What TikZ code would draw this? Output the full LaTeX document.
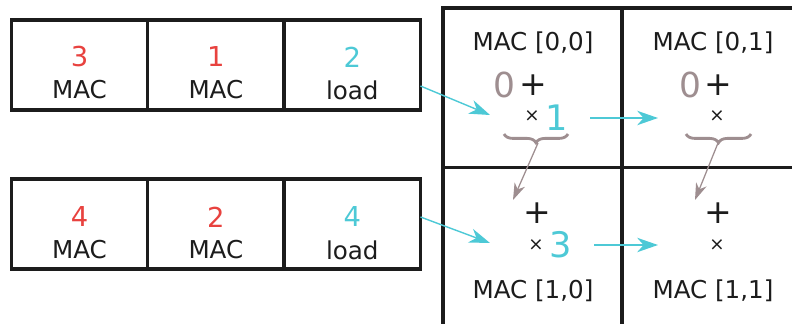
\documentclass[tikz,border=0pt]{standalone}
\usepackage{fontspec}
\setmainfont{DejaVu Sans}
\usetikzlibrary{arrows.meta,positioning,decorations.pathreplacing}
\definecolor{opred}{HTML}{E8423F}
\definecolor{ldcyan}{HTML}{4DC9D6}
\definecolor{accgray}{HTML}{9E8E90}
\definecolor{ink}{HTML}{1C1C1C}

\begin{document}
\begin{tikzpicture}[
  font=\fontsize{17.5}{20}\selectfont,
  text=ink,
  instr/.style={draw=ink,line width=2.4pt,outer sep=0pt,inner sep=0pt,
                minimum width=3.41cm,minimum height=2.25cm},
  cell/.style={draw=ink,line width=2.4pt,outer sep=0pt,inner sep=0pt,
               minimum width=4.475cm,minimum height=3.98cm},
  num/.style={font=\fontsize{19.5}{22}\selectfont,inner sep=0pt},
  lbl/.style={inner sep=0pt},
  acc/.style={font=\fontsize{24.5}{27}\selectfont,text=accgray,inner sep=0pt},
  sym/.style={font=\fontsize{23.5}{26}\selectfont,inner sep=0pt},
  mul/.style={font=\fontsize{13}{15}\selectfont,inner sep=0pt},
  val/.style={font=\fontsize{25}{27}\selectfont,text=ldcyan,inner sep=0pt},
  flow/.style={-{Stealth[length=5.2mm,width=3.6mm,inset=1.6mm]},draw=ldcyan,line width=1pt},
  sum/.style={-{Stealth[length=4.2mm,width=2.8mm,inset=1.3mm]},draw=accgray,line width=0.9pt},
  brc/.style={draw=accgray,line width=2pt,decorate,decoration={brace,mirror,amplitude=2.2mm}}
]
\useasboundingbox (0,0) rectangle (19.8,8.075);
% ---------- instruction queues ----------
\node[instr] (qa1) at (1.9875,6.45) {};
\node[instr,right=0pt of qa1] (qa2) {};
\node[instr,right=0pt of qa2] (qa3) {};
\node[num,text=opred]  at ([yshift=2mm]qa1.center) {3};
\node[lbl]             at ([yshift=-6.25mm]qa1.center) {MAC};
\node[num,text=opred]  at ([yshift=2mm]qa2.center) {1};
\node[lbl]             at ([yshift=-6.25mm]qa2.center) {MAC};
\node[num,text=ldcyan] at ([yshift=2mm]qa3.center) {2};
\node[lbl]             at ([yshift=-6.25mm]qa3.center) {load};

\node[instr] (qb1) at (1.9875,2.475) {};
\node[instr,right=0pt of qb1] (qb2) {};
\node[instr,right=0pt of qb2] (qb3) {};
\node[num,text=opred]  at ([yshift=1.75mm]qb1.center) {4};
\node[lbl]             at ([yshift=-6.5mm]qb1.center) {MAC};
\node[num,text=opred]  at ([yshift=1.75mm]qb2.center) {2};
\node[lbl]             at ([yshift=-6.5mm]qb2.center) {MAC};
\node[num,text=ldcyan] at ([yshift=1.75mm]qb3.center) {4};
\node[lbl]             at ([yshift=-6.5mm]qb3.center) {load};

% ---------- MAC grid ----------
\node[cell] (c00) at (13.3125,5.885) {};
\node[cell,right=0pt of c00] (c01) {};
\node[cell,below=0pt of c00] (c10) {};
\node[cell,right=0pt of c10] (c11) {};

% cell [0,0]
\node[lbl] (t00)   at (13.325,7.0)   {MAC [0,0]};
\node[acc] (acc00) at (12.62,5.95)   {0};
\node[sym] (add00) at (13.34,5.95)   {+};
\node[mul] (mul00) at (13.3,5.175)   {×};
\node[val] (v00)   at (13.925,5.125) {1};
\draw[brc] (12.6,4.725) -- (14.2,4.725);
\coordinate (s00) at (13.45,4.5);
% cell [0,1]
\node[lbl] (t01)   at (17.825,7.0)   {MAC [0,1]};
\node[acc] (acc01) at (17.26,5.95)   {0};
\node[sym] (add01) at (17.96,5.95)   {+};
\node[mul] (mul01) at (17.925,5.175) {×};
\draw[brc] (17.15,4.725) -- (18.775,4.725);
\coordinate (s01) at (17.95,4.5);
% cell [1,0]
\node[sym] (add10) at (13.425,2.75)  {+};
\node[mul] (mul10) at (13.4,1.95)    {×};
\node[val] (v10)   at (14.025,1.95)  {3};
\node[lbl] (t10)   at (13.325,0.8)   {MAC [1,0]};
% cell [1,1]
\node[sym] (add11) at (17.95,2.75)   {+};
\node[mul] (mul11) at (17.925,1.95)  {×};
\node[lbl] (t11)   at (17.825,0.8)   {MAC [1,1]};

% ---------- data movement ----------
\coordinate (in00) at (12.25,5.2);
\coordinate (in10) at (12.25,2.0);
\coordinate (in01) at (16.45,5.125);
\coordinate (in11) at (16.45,1.95);
\coordinate (ps10) at (12.825,3.075);
\coordinate (ps11) at (17.375,3.075);
\draw[flow] ([yshift=-5.25mm]qa3.east) -- (in00);
\draw[flow] ([yshift=1.75mm]qb3.east) -- (in10);
\draw[flow] ([xshift=5.5mm]v00.east) -- (in01);
\draw[flow] ([xshift=5.5mm]v10.east) -- (in11);
\draw[sum] (s00) -- (ps10);
\draw[sum] (s01) -- (ps11);
\end{tikzpicture}
\end{document}
